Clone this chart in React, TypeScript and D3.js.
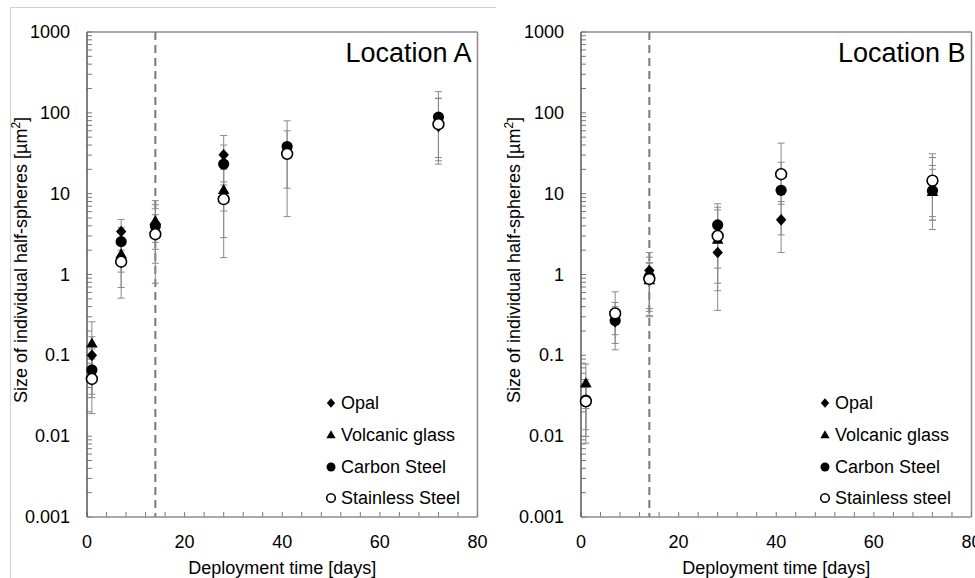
import React from "react";
import * as d3 from "d3";

const days = [1, 7, 14, 28, 41, 72];

const opalA = [0.10, 3.4, 4.23, 30.2, null, 68];
const opalA_lo = [0.033, 2.0, 2.05, 6.1, null, 25.5];
const opalA_hi = [0.17, 4.8, 7.3, 52.4, null, 150];
const volcA = [0.14, 1.78, 4.6, 11.1, null, null];
const volcA_lo = [0.06, 1.07, 1.38, 2.86, null, null];
const volcA_hi = [0.26, 2.5, 8.2, 20, null, null];
const carbA = [0.066, 2.55, 3.99, 23.2, 38.3, 88.5];
const carbA_lo = [0.03, 0.69, 2.5, 12.8, 11.7, 28];
const carbA_hi = [0.12, 3.8, 6.5, 40, 79.6, 183];
const stainA = [0.051, 1.44, 3.15, 8.55, 31.1, 72.4];
const stainA_lo = [0.019, 0.51, 0.78, 1.62, 5.2, 23.2];
const stainA_hi = [0.09, 2.4, 5.5, 14, 60, 152];

const opalB = [0.028, 0.26, 1.12, 1.87, 4.74, 11];
const opalB_lo = [0.012, 0.14, 0.38, 0.36, 1.87, 4.7];
const opalB_hi = [0.04, 0.4, 1.87, 3.0, 8, 20];
const volcB = [0.045, null, 0.85, 2.7, null, 10.5];
const volcB_lo = [0.022, null, 0.3, 0.63, null, 3.6];
const volcB_hi = [0.078, null, 1.4, 6.3, null, 28];
const carbB = [0.028, 0.27, 0.94, 4.1, 11.0, 10.9];
const carbB_lo = [0.0082, 0.117, 0.31, 1.2, 3.09, 4.7];
const carbB_hi = [0.045, 0.45, 1.64, 7.5, 24.5, 22.3];
const stainB = [0.027, 0.33, 0.88, 3.0, 17.4, 14.5];
const stainB_lo = [0.0099, 0.18, 0.35, 0.78, 7.4, 5.2];
const stainB_hi = [0.05, 0.61, 1.38, 6.8, 42.2, 31.1];

const legendA = ["Opal", "Volcanic glass", "Carbon Steel", "Stainless Steel"];
const legendB = ["Opal", "Volcanic glass", "Carbon Steel", "Stainless steel"];
const yTicks = [0.001, 0.01, 0.1, 1, 10, 100, 1000];
const xTicks = [0, 20, 40, 60, 80];
const dashDay = 14;

const FONT = "'Liberation Sans', Arial, sans-serif";
const shapes = ["diamond", "triangle", "circle", "open"];

function Marker({ kind, x, y, s = 1 }: { kind: string; x: number; y: number; s?: number }) {
  if (kind === "diamond") {
    const w = 5.2 * s, h = 5.8 * s;
    return <path d={`M${x},${y - h}L${x + w},${y}L${x},${y + h}L${x - w},${y}Z`} fill="#000" />;
  }
  if (kind === "triangle") {
    const w = 5.8 * s, h = 10 * s;
    return <path d={`M${x},${y - h * 0.6}L${x + w},${y + h * 0.4}L${x - w},${y + h * 0.4}Z`} fill="#000" />;
  }
  if (kind === "circle") return <circle cx={x} cy={y} r={5.6 * s} fill="#000" />;
  return <circle cx={x} cy={y} r={5.4 * s} fill="#fff" stroke="#000" strokeWidth={1.6} />;
}

function Panel({ x0, title, series, legend, yTitleX }: any) {
  const x = d3.scaleLinear().domain([0, 80]).range([x0, x0 + 390.5]);
  const y = d3.scaleLog().domain([0.001, 1000]).range([517, 32]);
  const [yb, yt] = y.range();
  const xr = x.range()[1];
  const minorY: number[] = [];
  for (let e = -3; e < 3; e++) for (let m = 1; m <= 9; m++) minorY.push(m * Math.pow(10, e));
  const xMinor = d3.range(0, 81, 4);
  const legY = [403, 435, 467, 498];
  return (
    <g fontFamily={FONT}>
      {/* box */}
      <line x1={x0} x2={xr} y1={yt} y2={yt} stroke="#8c8c8c" strokeWidth={1.5} />
      <line x1={xr} x2={xr} y1={yt} y2={yb} stroke="#8c8c8c" strokeWidth={1.5} />
      {/* dashed */}
      <line x1={x(dashDay)} x2={x(dashDay)} y1={yt} y2={yb} stroke="#7a7a7a" strokeWidth={2} strokeDasharray="8,5" />
      {/* y ticks */}
      {minorY.map((v, i) => (
        <line key={i} x1={x0} x2={x0 + 5} y1={y(v)} y2={y(v)} stroke="#7a7a7a" strokeWidth={1} />
      ))}
      <line x1={x0} x2={x0 + 5} y1={yt} y2={yt} stroke="#7a7a7a" />
      {/* x ticks */}
      {xMinor.map((v) => (
        <line key={v} x1={x(v)} x2={x(v)} y1={yb} y2={yb - 5} stroke="#7a7a7a" strokeWidth={1} />
      ))}
      <line x1={x0} x2={xr} y1={yb} y2={yb} stroke="#8c8c8c" strokeWidth={1.5} />
      <line x1={x0} x2={x0} y1={yt} y2={yb} stroke="#595959" strokeWidth={1.5} />
      {yTicks.map((v) => (
        <text key={v} x={x0 - 17} y={y(v) + 6} textAnchor="end" fontSize={18} fill="#000">
          {String(v)}
        </text>
      ))}
      {xTicks.map((v) => (
        <text key={v} x={x(v)} y={548} textAnchor="middle" fontSize={18} fill="#000">
          {v}
        </text>
      ))}
      <text x={(x0 + xr) / 2} y={574} textAnchor="middle" fontSize={18}>
        Deployment time [days]
      </text>
      <text
        transform={`translate(${yTitleX},260) rotate(-90)`}
        textAnchor="middle"
        fontSize={18}
      >
        Size of individual half-spheres [µm<tspan dy={-7} fontSize={12}>2</tspan><tspan dy={7}>]</tspan>
      </text>
      <text x={xr - 6} y={62} textAnchor="end" fontSize={27}>
        {title}
      </text>
      {/* error bars */}
      {series.map((s: any, si: number) =>
        days.map((d, i) => {
          if (s.v[i] == null) return null;
          const cx = x(d);
          return (
            <g key={`${si}-${i}`} stroke="#8a8a8a" strokeWidth={1}>
              <line x1={cx} x2={cx} y1={y(s.lo[i])} y2={y(s.hi[i])} />
              <line x1={cx - 3.5} x2={cx + 3.5} y1={y(s.lo[i])} y2={y(s.lo[i])} />
              <line x1={cx - 3.5} x2={cx + 3.5} y1={y(s.hi[i])} y2={y(s.hi[i])} />
            </g>
          );
        })
      )}
      {series.map((s: any, si: number) =>
        days.map((d, i) =>
          s.v[i] == null ? null : <Marker key={`m${si}-${i}`} kind={shapes[si]} x={x(d)} y={y(s.v[i])} />
        )
      )}
      {legend.map((l: string, i: number) => (
        <g key={l}>
          <Marker kind={shapes[i]} x={x0 + 244} y={legY[i]} s={0.8} />
          <text x={x0 + 254} y={legY[i] + 6} fontSize={18}>
            {l}
          </text>
        </g>
      ))}
    </g>
  );
}

export default function App() {
  const seriesA = [
    { v: opalA, lo: opalA_lo, hi: opalA_hi },
    { v: volcA, lo: volcA_lo, hi: volcA_hi },
    { v: carbA, lo: carbA_lo, hi: carbA_hi },
    { v: stainA, lo: stainA_lo, hi: stainA_hi },
  ];
  const seriesB = [
    { v: opalB, lo: opalB_lo, hi: opalB_hi },
    { v: volcB, lo: volcB_lo, hi: volcB_hi },
    { v: carbB, lo: carbB_lo, hi: carbB_hi },
    { v: stainB, lo: stainB_lo, hi: stainB_hi },
  ];
  return (
    <svg width={975} height={578} style={{ position: "absolute", left: 0, top: 0, background: "#fff" }}>
      <rect width={975} height={578} fill="#fff" />
      <line x1={10} x2={496} y1={7.5} y2={7.5} stroke="#d0d0d0" />
      <line x1={10.5} x2={10.5} y1={7} y2={578} stroke="#d0d0d0" />
      <Panel x0={87} title="Location A" series={seriesA} legend={legendA} yTitleX={27} />
      <Panel x0={581} title="Location B" series={seriesB} legend={legendB} yTitleX={520} />
    </svg>
  );
}
